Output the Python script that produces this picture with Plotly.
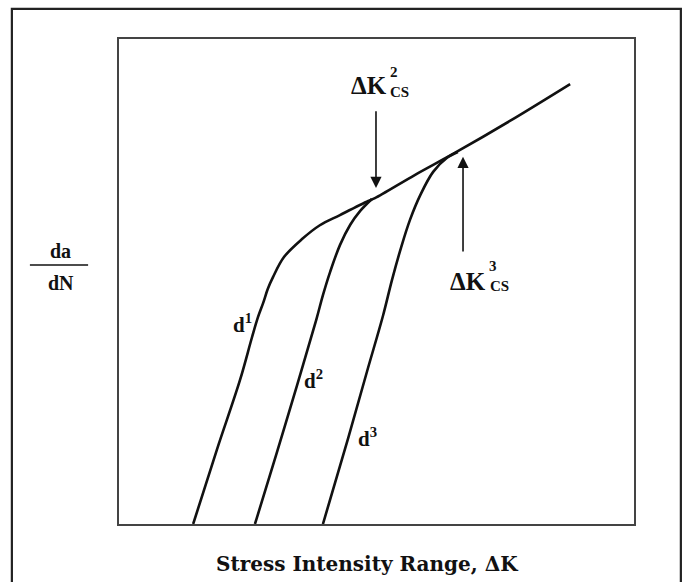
import plotly.graph_objects as go

# Values (arbitrary units: x = log ΔK, y = log da/dN)
d1_x = [1.44, 1.90, 2.35, 2.58, 2.70, 2.80, 2.89, 2.99, 3.20, 3.56, 3.90, 4.29, 4.84, 4.97, 5.75, 6.52, 7.59, 8.76]
d1_y = [0.00, 1.53, 2.97, 3.84, 4.27, 4.56, 4.85, 5.09, 5.50, 5.88, 6.16, 6.37, 6.66, 6.72, 7.20, 7.65, 8.31, 9.07]
d2_x = [2.64, 3.05, 3.46, 3.83, 3.96, 4.10, 4.29, 4.49, 4.68, 4.91]
d2_y = [0.00, 1.42, 2.87, 4.21, 4.72, 5.20, 5.75, 6.17, 6.45, 6.70]
d3_x = [3.96, 4.45, 4.82, 5.13, 5.30, 5.48, 5.65, 5.85, 6.10, 6.37, 6.58]
d3_y = [0.00, 1.77, 3.16, 4.31, 5.03, 5.71, 6.27, 6.78, 7.26, 7.55, 7.67]

curve_names = ["d1", "d2", "d3"]

SERIF = "Liberation Serif, Times New Roman, serif"

fig = go.Figure()
for name, xs, ys in zip(curve_names, [d1_x, d2_x, d3_x], [d1_y, d2_y, d3_y]):
    fig.add_trace(go.Scatter(x=xs, y=ys, mode="lines", name=name,
                             line=dict(color="#111111", width=2.6, shape="spline", smoothing=1.0),
                             hoverinfo="skip", showlegend=False))

ann = []
def txt(x, y, t, size, xref="x", yref="y", family=SERIF):
    ann.append(dict(x=x, y=y, xref=xref, yref=yref, text=t, showarrow=False,
                    xanchor="center", yanchor="middle",
                    font=dict(family=family, size=size, color="#111111")))

# curve labels
txt(2.40, 4.14, "<b>d<sup>1</sup></b>", 21)
txt(3.77, 2.97, "<b>d<sup>2</sup></b>", 21)
txt(4.82, 1.79, "<b>d<sup>3</sup></b>", 21)

# ΔK_CS labels
txt(4.85, 9.05, "<b>ΔK</b>", 25)
txt(5.33, 9.33, "<b>2</b>", 15)
txt(5.45, 8.90, "<b>CS</b>", 15)
txt(6.78, 5.01, "<b>ΔK</b>", 25)
txt(7.27, 5.32, "<b>3</b>", 15)
txt(7.39, 4.91, "<b>CS</b>", 15)

# arrows
ann.append(dict(x=4.99, y=6.93, ax=4.99, ay=8.54, xref="x", yref="y", axref="x", ayref="y",
                text="", showarrow=True, arrowhead=2, arrowsize=1.4, arrowwidth=1.6, arrowcolor="#111111"))
ann.append(dict(x=6.68, y=7.57, ax=6.68, ay=5.59, xref="x", yref="y", axref="x", ayref="y",
                text="", showarrow=True, arrowhead=2, arrowsize=1.4, arrowwidth=1.6, arrowcolor="#111111"))

# axis labels
txt(-0.113, 0.562, "<b>da</b>", 20, "paper", "paper")
txt(-0.113, 0.497, "<b>dN</b>", 20, "paper", "paper")
txt(0.482, -0.083, "<b>Stress Intensity Range, ΔK</b>", 20, "paper", "paper", "DejaVu Serif, serif")

shapes = [
    dict(type="line", xref="paper", yref="paper", x0=-0.173, x1=-0.060, y0=0.534, y1=0.534,
         line=dict(color="#111111", width=1.6)),
    dict(type="rect", xref="paper", yref="paper", x0=-0.208, x1=1.091, y0=-0.15, y1=1.062,
         line=dict(color="#222222", width=2.2), layer="below"),
]

fig.update_layout(
    width=683, height=582,
    margin=dict(l=119, r=49, t=39, b=58),
    paper_bgcolor="white", plot_bgcolor="white",
    annotations=ann, shapes=shapes,
    xaxis=dict(range=[0, 10], showgrid=False, zeroline=False, showticklabels=False, ticks="",
               showline=True, mirror=True, linecolor="#444444", linewidth=2),
    yaxis=dict(range=[0, 10], showgrid=False, zeroline=False, showticklabels=False, ticks="",
               showline=True, mirror=True, linecolor="#444444", linewidth=2),
)

fig.write_html("out.html")
